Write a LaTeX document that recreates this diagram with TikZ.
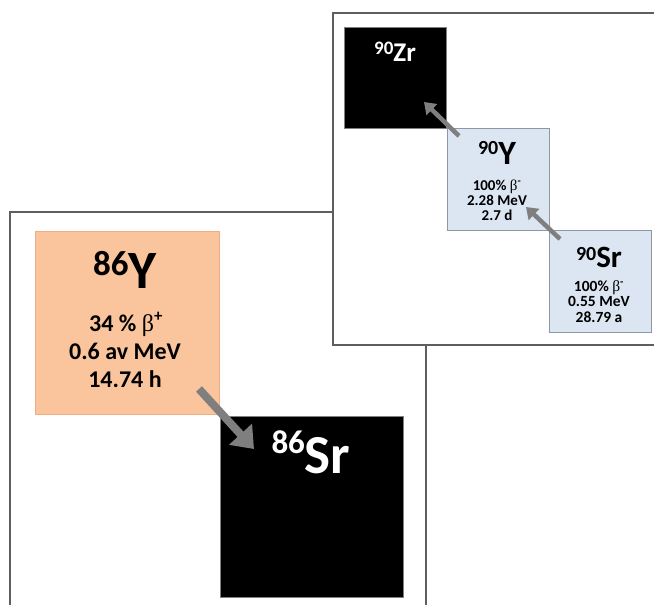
\documentclass[tikz,border=0pt]{standalone}
\usepackage{fontspec}
\setmainfont{Carlito}
\newfontfamily\betafont{Liberation Serif}
\usetikzlibrary{arrows.meta}

\definecolor{framegray}{HTML}{5E5E5E}
\definecolor{peach}{HTML}{FAC59C}
\definecolor{peachedge}{HTML}{EDAE82}
\definecolor{paleblue}{HTML}{DCE6F2}
\definecolor{blueedge}{HTML}{8E98A4}
\definecolor{arrowgray}{HTML}{7F7F7F}

% mass number raised before the element symbol
\newcommand{\nuclide}[5]{\raisebox{#2pt}{\fontsize{#1}{#1}\selectfont #4}\fontsize{#3}{#3}\selectfont #5}
% serif beta with its charge sign
\newcommand{\betaof}[1]{{\betafont\mdseries β}\textsuperscript{#1}}

\tikzset{
  panel/.style={draw=framegray, line width=2pt, fill=white},
  decaybox/.style={line width=1pt, anchor=north west, inner sep=0pt},
  orangebox/.style={decaybox, draw=peachedge, fill=peach},
  bluebox/.style={decaybox, draw=blueedge, fill=paleblue},
  stablebox/.style={decaybox, draw=gray, fill=black},
  label/.style={anchor=base, inner sep=0pt, font=\bfseries},
  bigline/.style={label, font=\bfseries\fontsize{24}{24}\selectfont},
  yline/.style={label, font=\bfseries\fontsize{15}{15}\selectfont},
  srline/.style={label, font=\bfseries\fontsize{15.5}{15.5}\selectfont},
  bigarrow/.style={draw=arrowgray, line width=8pt, -{Triangle[width=30pt,length=20pt]}},
  smallarrow/.style={draw=arrowgray, line width=4.5pt, -{Triangle[width=15pt,length=11pt]}},
}

\begin{document}
\begin{tikzpicture}[x=1pt, y=-1pt]
\useasboundingbox (0,0) rectangle (654,605);

% back panel: 86Y decay
\draw[panel] (10,212) rectangle (426,640);
\node[orangebox, minimum width=184pt, minimum height=183pt] (y86) at (35,231) {};
\node[stablebox, minimum width=183pt, minimum height=181pt] (sr86) at (220,416) {};

\node[label] (y86name) at (125,288) {\nuclide{35}{13}{54}{86}{Y}};
\node[bigline] (y86a) at (126,331) {34 \% \betaof{+}};
\node[bigline] (y86b) at (125,359) {0.6 av MeV};
\node[bigline] (y86c) at (125,387) {14.74 h};

\node[label, text=white] (sr86name) at (311,473) {\nuclide{33}{20}{55}{86}{Sr}};

\coordinate (a1s) at (199,389);
\coordinate (a1e) at (254,449);
\draw[bigarrow] (a1s) -- (a1e);

% front panel: 90Sr decay chain
\draw[panel] (333,13) rectangle (680,345);
\node[stablebox, minimum width=102pt, minimum height=101pt] (zr90) at (344,27) {};
\node[bluebox, minimum width=102pt, minimum height=102pt] (y90) at (447,128) {};
\node[bluebox, minimum width=102pt, minimum height=102pt] (sr90) at (549,230) {};

\node[label, text=white] (zr90name) at (395,61) {\nuclide{19}{7}{27}{90}{Zr}};

\node[label] (y90name) at (497,164) {\nuclide{20}{10}{34}{90}{Y}};
\node[yline] (y90a) at (497,190) {100\% \betaof{-}};
\node[yline] (y90b) at (497,205) {2.28 MeV};
\node[yline] (y90c) at (497,220) {2.7 d};

\node[label] (sr90name) at (599,267) {\nuclide{20}{7}{31}{90}{Sr}};
\node[srline] (sr90a) at (599,291) {100\% \betaof{-}};
\node[srline] (sr90b) at (599,306) {0.55 MeV};
\node[srline] (sr90c) at (599,322) {28.79 a};

\coordinate (a2s) at (459,136);
\coordinate (a2e) at (424,102);
\draw[smallarrow] (a2s) -- (a2e);
\coordinate (a3s) at (560,239);
\coordinate (a3e) at (526,207);
\draw[smallarrow] (a3s) -- (a3e);
\end{tikzpicture}
\end{document}
